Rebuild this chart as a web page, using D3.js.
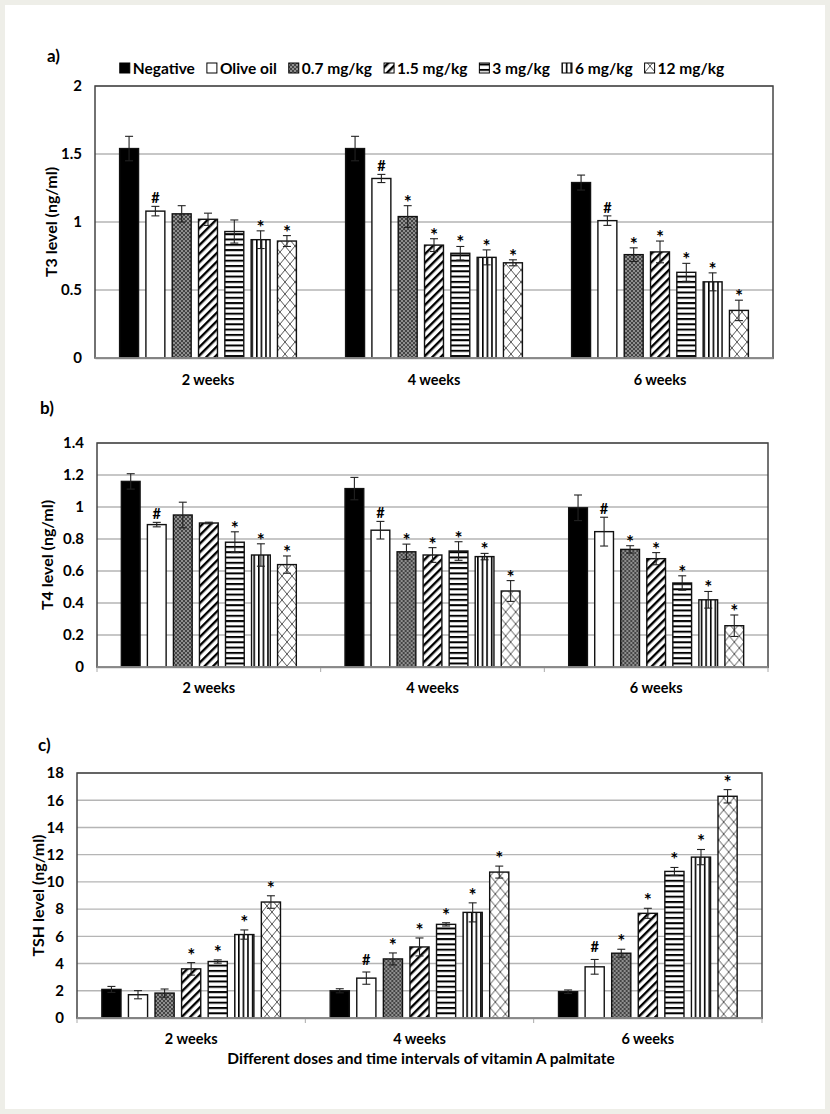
<!DOCTYPE html>
<html>
<head>
<meta charset="utf-8">
<script src="https://cdn.jsdelivr.net/npm/d3@7"></script>
<style>
  html, body { margin: 0; padding: 0; background: #eeeee8; }
  svg { display: block; }
  text { font-family: Lato, "Open Sans", sans-serif; font-weight: bold; fill: #000; }
</style>
</head>
<body>
<script>
// ---------- data ----------
const groups = ["2 weeks", "4 weeks", "6 weeks"];
const series = ["Negative", "Olive oil", "0.7 mg/kg", "1.5 mg/kg", "3 mg/kg", "6 mg/kg", "12 mg/kg"];

const t3Ticks = [0, 0.5, 1, 1.5, 2];
const t3Means = [
  [1.54, 1.08, 1.06, 1.02, 0.93, 0.87, 0.86],
  [1.54, 1.32, 1.04, 0.83, 0.77, 0.74, 0.70],
  [1.29, 1.01, 0.76, 0.78, 0.63, 0.56, 0.35]
];
const t3Errors = [
  [0.09, 0.035, 0.06, 0.045, 0.085, 0.065, 0.04],
  [0.09, 0.03, 0.08, 0.047, 0.05, 0.055, 0.022],
  [0.055, 0.035, 0.05, 0.08, 0.066, 0.066, 0.075]
];
const t3Marks = [
  ["", "#", "", "", "", "*", "*"],
  ["", "#", "*", "*", "*", "*", "*"],
  ["", "#", "*", "*", "*", "*", "*"]
];

const t4Ticks = [0, 0.2, 0.4, 0.6, 0.8, 1, 1.2, 1.4];
const t4Means = [
  [1.16, 0.89, 0.95, 0.90, 0.78, 0.70, 0.64],
  [1.115, 0.855, 0.72, 0.70, 0.725, 0.69, 0.475],
  [0.995, 0.846, 0.735, 0.677, 0.525, 0.42, 0.258]
];
const t4Errors = [
  [0.048, 0.014, 0.08, 0.005, 0.065, 0.07, 0.054],
  [0.07, 0.055, 0.048, 0.046, 0.058, 0.02, 0.065],
  [0.08, 0.09, 0.023, 0.038, 0.045, 0.052, 0.067]
];
const t4Marks = [
  ["", "#", "", "", "*", "*", "*"],
  ["", "#", "*", "*", "*", "*", "*"],
  ["", "#", "*", "*", "*", "*", "*"]
];

const tshTicks = [0, 2, 4, 6, 8, 10, 12, 14, 16, 18];
const tshMeans = [
  [2.1, 1.71, 1.83, 3.61, 4.15, 6.13, 8.52],
  [2.0, 2.93, 4.34, 5.22, 6.88, 7.76, 10.72],
  [1.93, 3.76, 4.76, 7.69, 10.77, 11.82, 16.29]
];
const tshErrors = [
  [0.22, 0.3, 0.3, 0.46, 0.12, 0.34, 0.46],
  [0.15, 0.45, 0.44, 0.66, 0.12, 0.7, 0.44],
  [0.13, 0.54, 0.29, 0.37, 0.29, 0.56, 0.49]
];
const tshMarks = [
  ["", "", "", "*", "*", "*", "*"],
  ["", "#", "*", "*", "*", "*", "*"],
  ["", "#", "*", "*", "*", "*", "*"]
];

const xAxisTitle = "Different doses and time intervals of vitamin A palmitate";

// ---------- drawing ----------
const W = 830, H = 1114;
const svg = d3.select("body").append("svg").attr("width", W).attr("height", H);
svg.append("rect").attr("x", 0).attr("y", 0).attr("width", W).attr("height", H).attr("fill", "#eeeee8");
svg.append("rect").attr("x", 5).attr("y", 5).attr("width", W - 10).attr("height", H - 10).attr("fill", "#fff");

const defs = svg.append("defs");
// 0.7 mg/kg : dark dotted
{
  const p = defs.append("pattern").attr("id", "p2").attr("patternUnits", "userSpaceOnUse").attr("width", 4).attr("height", 4);
  p.append("rect").attr("width", 4).attr("height", 4).attr("fill", "#444");
  p.append("circle").attr("cx", 1).attr("cy", 1).attr("r", 0.8).attr("fill", "#eee");
  p.append("circle").attr("cx", 3).attr("cy", 3).attr("r", 0.8).attr("fill", "#eee");
}
// 1.5 mg/kg : wide upward diagonal
{
  const p = defs.append("pattern").attr("id", "p3").attr("patternUnits", "userSpaceOnUse")
    .attr("width", 6).attr("height", 6).attr("patternTransform", "rotate(45)");
  p.append("rect").attr("width", 6).attr("height", 6).attr("fill", "#fff");
  p.append("rect").attr("x", 0).attr("y", 0).attr("width", 2.4).attr("height", 6).attr("fill", "#000");
}
// 3 mg/kg : horizontal stripes
{
  const p = defs.append("pattern").attr("id", "p4").attr("patternUnits", "userSpaceOnUse").attr("width", 6).attr("height", 5.3);
  p.append("rect").attr("width", 6).attr("height", 5.3).attr("fill", "#fff");
  p.append("rect").attr("x", 0).attr("y", 0).attr("width", 6).attr("height", 2).attr("fill", "#000");
}
// 6 mg/kg : vertical stripes
{
  const p = defs.append("pattern").attr("id", "p5").attr("patternUnits", "userSpaceOnUse").attr("width", 4.6).attr("height", 6);
  p.append("rect").attr("width", 4.6).attr("height", 6).attr("fill", "#fff");
  p.append("rect").attr("x", 0).attr("y", 0).attr("width", 1.6).attr("height", 6).attr("fill", "#000");
}
// 12 mg/kg : zigzag lattice
{
  const p = defs.append("pattern").attr("id", "p6").attr("patternUnits", "userSpaceOnUse").attr("width", 10).attr("height", 12);
  p.append("rect").attr("width", 10).attr("height", 12).attr("fill", "#fff");
  p.append("path").attr("d", "M0,6 L5,0 L10,6 L5,12 Z").attr("fill", "none").attr("stroke", "#555").attr("stroke-width", 1);
}
const fills = ["#000", "#fff", "url(#p2)", "url(#p3)", "url(#p4)", "url(#p5)", "url(#p6)"];

// legend
{
  const g = svg.append("g");
  const fs = 15.5, sq = 10, gapT = 3, gapI = 12, by = 74;
  let x = 0;
  const items = [];
  series.forEach((s, i) => {
    const t = g.append("text").attr("font-size", fs).attr("y", by).text(s);
    const w = t.node().getComputedTextLength();
    items.push({ t, w, x });
    x += sq + gapT + w + gapI;
  });
  const total = x - gapI;
  const startX = 422 - total / 2;
  items.forEach((it, i) => {
    g.append("rect").attr("x", startX + it.x).attr("y", by - 11).attr("width", sq).attr("height", sq)
      .attr("fill", fills[i]).attr("stroke", "#000").attr("stroke-width", 1);
    it.t.attr("x", startX + it.x + sq + gapT);
  });
}

const panels = [
  { label: "a)", lx: 47, ly: 62, x0: 95, x1: 773, y0: 86, y1: 358, ticks: t3Ticks,
    title: "T3 level (ng/ml)", tx: 50, means: t3Means, errs: t3Errors, marks: t3Marks, catY: 385, catTicks: false, gap: 8 },
  { label: "b)", lx: 40, ly: 414, x0: 97, x1: 768, y0: 443, y1: 667, ticks: t4Ticks,
    title: "T4 level (ng/ml)", tx: 46, means: t4Means, errs: t4Errors, marks: t4Marks, catY: 693, catTicks: true, gap: 8 },
  { label: "c)", lx: 38, ly: 751, x0: 77, x1: 762, y0: 773, y1: 1018, ticks: tshTicks,
    title: "TSH level (ng/ml)", tx: 37, means: tshMeans, errs: tshErrors, marks: tshMarks, catY: 1044, catTicks: true, gap: 12 }
];

panels.forEach(P => {
  const g = svg.append("g");
  const x = d3.scaleBand().domain(groups).range([P.x0, P.x1]).paddingInner(0).paddingOuter(0);
  const xs = d3.scaleBand().domain(series).range([0, x.bandwidth()]).paddingInner(0.28).paddingOuter(0.935);
  const y = d3.scaleLinear().domain([0, d3.max(P.ticks)]).range([P.y1, P.y0]);

  // gridlines
  g.append("g").selectAll("line").data(P.ticks.slice(1)).join("line")
    .attr("x1", P.x0).attr("x2", P.x1).attr("y1", d => y(d)).attr("y2", d => y(d))
    .attr("stroke", "#b5b5b5").attr("stroke-width", 1.4);

  // y axis labels
  const yAxis = d3.axisLeft(y).tickValues(P.ticks).tickSize(0).tickPadding(13)
    .tickFormat(d => String(+d.toFixed(2)));
  const ya = g.append("g").attr("transform", `translate(${P.x0},0)`).call(yAxis);
  ya.select(".domain").remove();
  ya.selectAll("text").attr("font-size", 15).attr("font-family", "Lato, 'Open Sans', sans-serif").attr("font-weight", "bold").attr("fill", "#000");

  // x axis
  const xAxis = d3.axisBottom(x).tickSize(0).tickPadding(0);
  const xa = g.append("g").attr("transform", `translate(0,${P.y1})`).call(xAxis);
  xa.select(".domain").attr("stroke", "#999").attr("stroke-width", 1.4);
  xa.selectAll("text").attr("y", P.catY - P.y1).attr("dy", 0).attr("font-size", 14.5)
    .attr("font-family", "Lato, 'Open Sans', sans-serif").attr("font-weight", "bold").attr("fill", "#000");
  if (P.catTicks) {
    g.append("g").selectAll("line").data(groups).join("line")
      .attr("x1", d => x(d)).attr("x2", d => x(d)).attr("y1", P.y1).attr("y2", P.y1 + 5)
      .attr("stroke", "#aaa").attr("stroke-width", 1);
    g.append("line").attr("x1", P.x1).attr("x2", P.x1).attr("y1", P.y1).attr("y2", P.y1 + 5)
      .attr("stroke", "#aaa").attr("stroke-width", 1);
  }

  // bars
  groups.forEach((grp, gi) => {
    const gg = g.append("g").attr("transform", `translate(${x(grp)},0)`);
    const data = series.map((s, si) => ({ s, si, v: P.means[gi][si], e: P.errs[gi][si], m: P.marks[gi][si] }));
    gg.selectAll("rect.bar").data(data).join("rect").attr("class", "bar")
      .attr("x", d => xs(d.s)).attr("width", xs.bandwidth())
      .attr("y", d => y(d.v)).attr("height", d => y(0) - y(d.v))
      .attr("fill", d => fills[d.si]).attr("stroke", "#111").attr("stroke-width", 1.4);
    const eb = gg.selectAll("g.err").data(data).join("g").attr("class", "err")
      .attr("stroke", "#222").attr("stroke-width", 1.1);
    eb.append("line").attr("x1", d => xs(d.s) + xs.bandwidth() / 2).attr("x2", d => xs(d.s) + xs.bandwidth() / 2)
      .attr("y1", d => y(d.v - d.e)).attr("y2", d => y(d.v + d.e));
    eb.append("line").attr("x1", d => xs(d.s) + xs.bandwidth() / 2 - 4).attr("x2", d => xs(d.s) + xs.bandwidth() / 2 + 4)
      .attr("y1", d => y(d.v + d.e)).attr("y2", d => y(d.v + d.e));
    eb.append("line").attr("x1", d => xs(d.s) + xs.bandwidth() / 2 - 4).attr("x2", d => xs(d.s) + xs.bandwidth() / 2 + 4)
      .attr("y1", d => y(d.v - d.e)).attr("y2", d => y(d.v - d.e));
    gg.selectAll("text.mark").data(data.filter(d => d.m)).join("text").attr("class", "mark")
      .attr("x", d => xs(d.s) + xs.bandwidth() / 2)
      .attr("y", d => y(d.v + d.e) - P.gap + (d.m === "*" ? 11 : 5))
      .attr("text-anchor", "middle").attr("font-size", d => d.m === "*" ? 19 : 14.5).text(d => d.m);
  });

  // frame
  g.append("rect").attr("x", P.x0).attr("y", P.y0).attr("width", P.x1 - P.x0).attr("height", P.y1 - P.y0)
    .attr("fill", "none").attr("stroke", "#444").attr("stroke-width", 1.5);
  g.append("line").attr("x1", P.x0).attr("x2", P.x1).attr("y1", P.y1).attr("y2", P.y1)
    .attr("stroke", "#999").attr("stroke-width", 1.6);

  // y title
  g.append("text").attr("transform", `translate(${P.tx},${(P.y0 + P.y1) / 2}) rotate(-90)`)
    .attr("text-anchor", "middle").attr("dominant-baseline", "central").attr("font-size", 16).text(P.title);
  // panel label
  g.append("text").attr("x", P.lx).attr("y", P.ly).attr("font-size", 17).text(P.label);
});

svg.append("text").attr("x", 421).attr("y", 1064).attr("text-anchor", "middle").attr("font-size", 15.5).text(xAxisTitle);
</script>
</body>
</html>
